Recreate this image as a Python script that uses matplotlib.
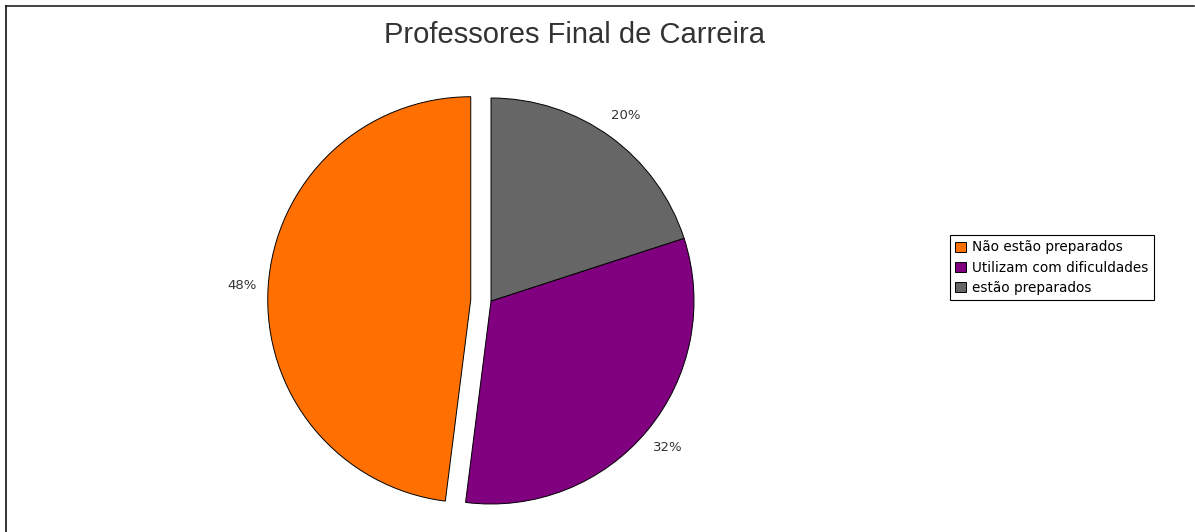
import matplotlib
matplotlib.use('Agg')
import matplotlib.pyplot as plt
from matplotlib.lines import Line2D

# data
labels = ['Não estão preparados', 'Utilizam com dificuldades', 'estão preparados']
values = [48, 32, 20]
colors = ['#ff7000', '#800080', '#666666']
explode = [0.1, 0, 0]  # fraction of radius

W, H = 1195, 532
R = 203
fig = plt.figure(figsize=(W / 100, H / 100), dpi=100)
ax = fig.add_axes([0, 0, 1, 1])

# explode in pie() is in data units, so scale by the radius
wedges, texts, autotexts = ax.pie(
    values, colors=colors, explode=[e * R for e in explode], startangle=90,
    center=(491, H - 301), radius=R,
    autopct='%d%%', pctdistance=1.13,
    wedgeprops=dict(edgecolor='black', linewidth=0.7),
    textprops=dict(fontsize=9.5, color='#333333'))

# pie() resets limits, so set them afterwards
ax.set_xlim(0, W)
ax.set_ylim(0, H)
ax.set_aspect('equal')
ax.axis('off')

# title
fig.text(575 / W, 1 - 35 / H, 'Professores Final de Carreira',
         ha='center', va='center', fontsize=21, color='#333333',
         family='Liberation Sans')

# legend
leg = fig.legend(wedges, labels, loc='upper left',
                 bbox_to_anchor=(950 / W, 1 - 235 / H),
                 fontsize=9.8, frameon=True, fancybox=False, framealpha=1,
                 handlelength=0.8, handleheight=0.8, handletextpad=0.4,
                 labelspacing=0.45, borderpad=0.4, borderaxespad=0)
leg.get_frame().set_edgecolor('black')
leg.get_frame().set_linewidth(0.8)

# frame lines top and left
fig.add_artist(Line2D([6 / W, 1194 / W], [1 - 6 / H, 1 - 6 / H], color='#222222', linewidth=1.2,
                      transform=fig.transFigure))
fig.add_artist(Line2D([6 / W, 6 / W], [0, 1 - 6 / H], color='#111111', linewidth=1.2,
                      transform=fig.transFigure))

fig.savefig('out.png', dpi=100)
